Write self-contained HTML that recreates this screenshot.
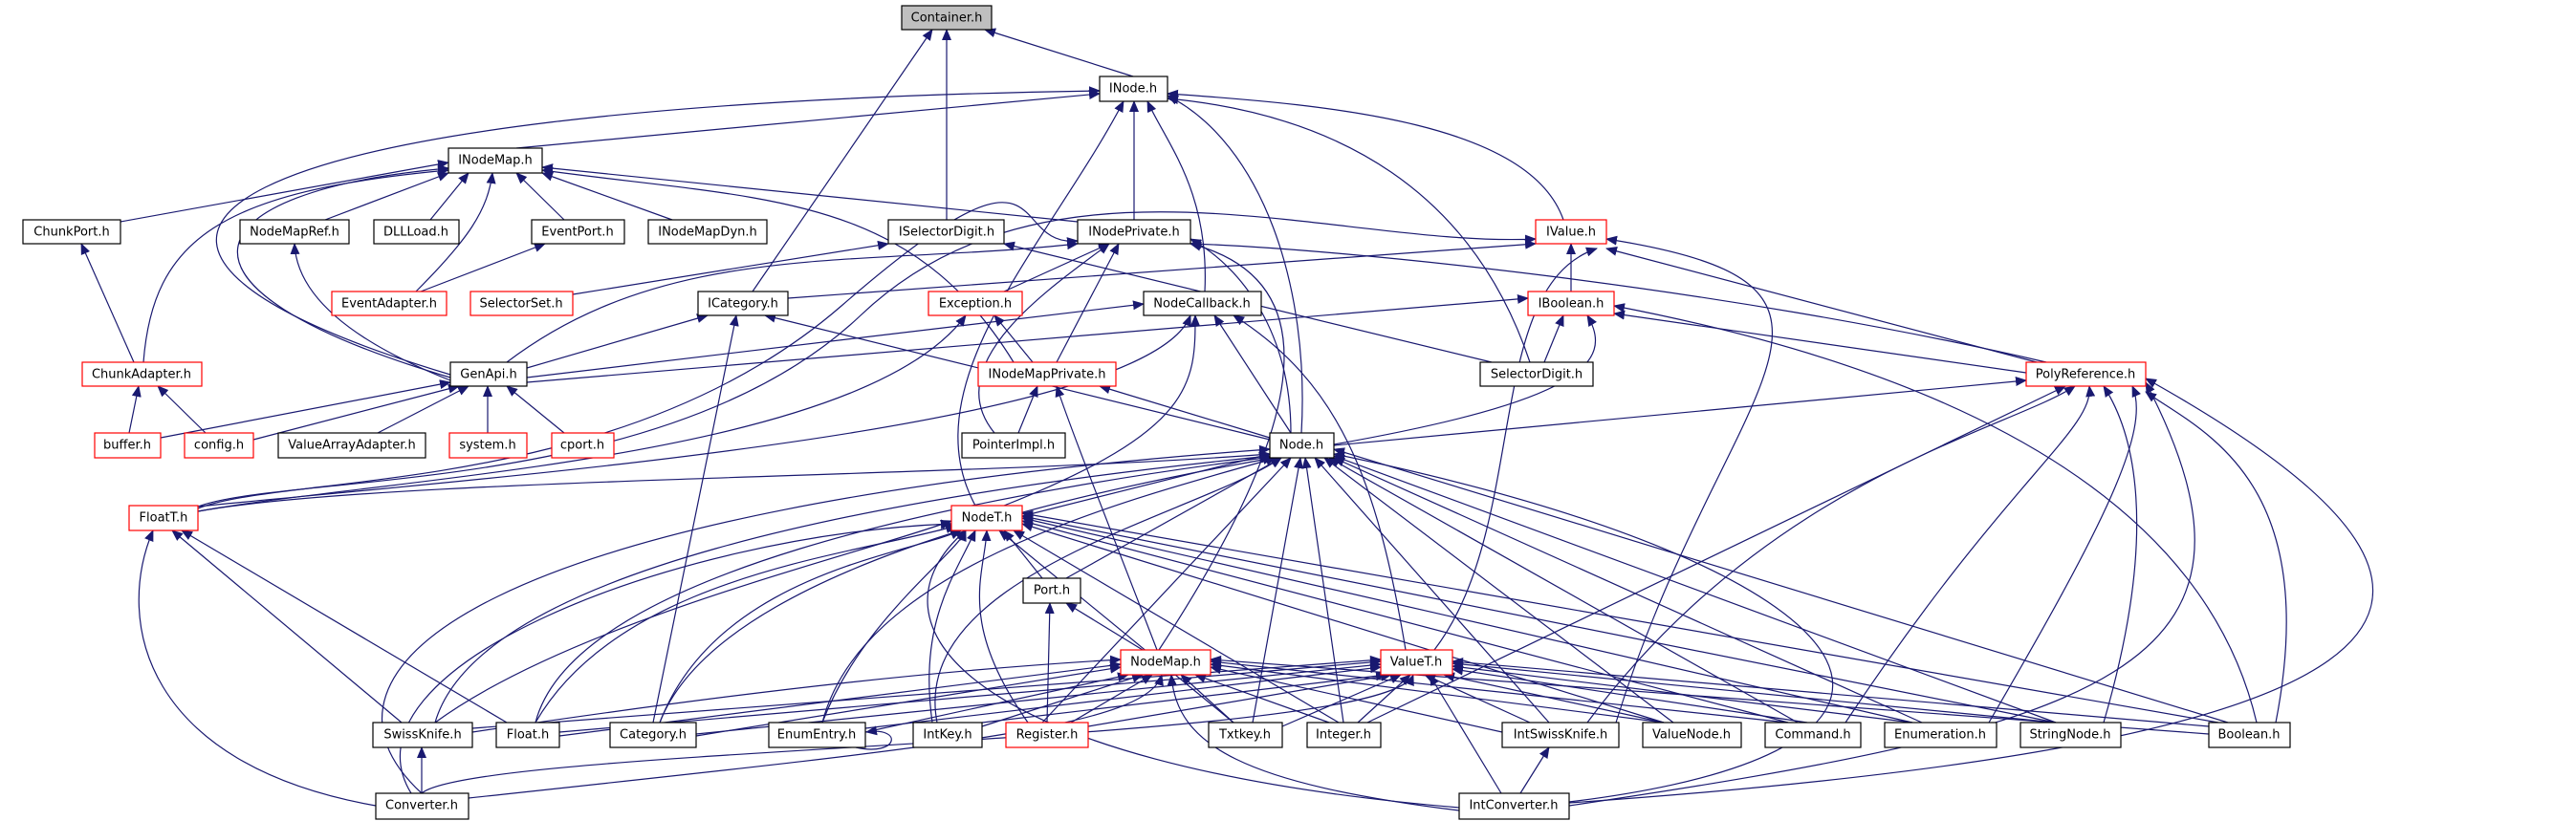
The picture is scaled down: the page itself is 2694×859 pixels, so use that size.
<!DOCTYPE html>
<html><head><meta charset="utf-8"><style>
html,body{margin:0;padding:0;background:#fff;}
svg{display:block}
text{font-family:"DejaVu Sans","Liberation Sans",sans-serif;font-size:13px;text-anchor:middle;dominant-baseline:central;fill:#000}
rect{stroke-width:1.2}
</style></head><body>
<svg width="2694" height="859" viewBox="0 0 2694 859" xmlns="http://www.w3.org/2000/svg">
<defs><marker id="a" markerWidth="12" markerHeight="10" refX="11" refY="5" orient="auto" markerUnits="userSpaceOnUse"><path d="M0,0 L12,5 L0,10 z" fill="#191970"/></marker></defs>
<g fill="none" stroke="#191970" stroke-width="1.2" marker-end="url(#a)">
<path d="M1185 80L1030 31"/><path d="M990 230L990 31"/><path d="M787 305L975 31"/>
<path d="M540 155L1150 98"/><path d="M471 392C0 250 200 110 1150 95"/><path d="M1186 230L1186 106"/>
<path d="M1260 305C1265 200 1220 150 1200 106"/><path d="M1361 453C1370 300 1320 150 1221 100"/>
<path d="M1635 230C1600 130 1400 110 1221 98"/><path d="M1600 379C1540 200 1400 120 1221 103"/>
<path d="M1020 529C950 400 1100 250 1175 106"/>
<path d="M126 232L469 170"/><path d="M340 230L469 181"/><path d="M450 230L490 181"/><path d="M590 230L540 181"/>
<path d="M703 230L567 181"/><path d="M435 305C490 250 510 220 515 181"/><path d="M1127 232L567 175"/>
<path d="M150 379C160 250 230 200 469 178"/><path d="M471 395C150 300 200 200 469 176"/><path d="M1060 379C950 200 800 210 567 178"/>
<path d="M140 379L85 255"/><path d="M471 398C350 350 310 300 308 255"/><path d="M440 305L570 255"/>
<path d="M599 308L929 255"/><path d="M1560 379L1050 255"/>
<path d="M530 379C700 250 900 280 1127 255"/><path d="M207 532C300 495 650 520 880 320S1050 260 1127 252"/><path d="M1050 305L1160 255"/>
<path d="M1105 379L1170 255"/><path d="M1040 453C980 380 1100 300 1160 255"/><path d="M1350 453C1350 350 1300 280 1245 250"/>
<path d="M1212 680C1330 500 1420 300 1245 255"/><path d="M2140 379C1800 300 1400 260 1245 255"/>
<path d="M824 312L1606 255"/><path d="M207 530C300 495 700 520 900 330S1400 260 1606 250"/><path d="M1643 305L1643 255"/>
<path d="M2130 379L1680 260"/><path d="M1500 680C1600 550 1550 300 1670 260"/><path d="M1690 756C1800 400 2000 300 1680 250"/>
<path d="M551 385L740 330"/><path d="M683 756L770 330"/><path d="M1328 460L800 330"/>
<path d="M1080 379L1040 330"/><path d="M207 535C400 500 900 480 1010 330"/>
<path d="M551 395L1196 318"/><path d="M1350 453L1270 330"/><path d="M1050 529C1250 450 1250 400 1250 330"/>
<path d="M207 530C500 500 1200 450 1245 330"/><path d="M1470 680C1440 500 1400 400 1290 330"/>
<path d="M551 400L1598 312"/><path d="M1615 379L1635 330"/><path d="M1395 465C1650 420 1690 380 1660 330"/>
<path d="M2119 390L1688 328"/><path d="M2360 756C2300 500 2000 380 1688 320"/>
<path d="M135 453L145 404"/><path d="M215 453L165 404"/>
<path d="M168 458L471 400"/><path d="M265 460L480 404"/><path d="M395 453L490 404"/><path d="M510 453L510 404"/><path d="M590 453L530 404"/>
<path d="M1065 453L1085 404"/><path d="M1328 458L1150 404"/><path d="M1210 680C1160 550 1120 450 1105 404"/>
<path d="M1395 466L2119 398"/><path d="M1430 756L2160 404"/><path d="M1660 756C1850 500 2100 450 2170 404"/>
<path d="M1930 756C2100 500 2190 450 2185 404"/><path d="M2200 756C2260 550 2230 450 2200 404"/>
<path d="M2080 756C2200 550 2250 450 2230 404"/><path d="M2380 756C2430 500 2300 450 2244 410"/>
<path d="M1641 843C2200 760 2400 700 2244 400"/><path d="M1641 840C2500 780 2700 650 2244 396"/>
<path d="M207 535C400 500 1000 500 1328 475"/><path d="M1069 540L1328 475"/><path d="M1115 605L1340 479"/>
<path d="M455 756C500 600 900 520 1328 477"/><path d="M560 756C600 600 1000 520 1330 478"/>
<path d="M690 756C750 600 1100 520 1332 479"/><path d="M860 756C900 600 1150 530 1335 479"/>
<path d="M980 756C950 600 1250 540 1340 479"/><path d="M1090 756L1350 479"/><path d="M1310 756L1360 479"/>
<path d="M1405 756L1365 479"/><path d="M1620 756L1375 479"/><path d="M1750 756L1385 479"/><path d="M1880 756L1390 479"/>
<path d="M2010 756L1395 479"/><path d="M2150 756L1395 477"/><path d="M2330 756L1395 470"/>
<path d="M441 830C300 700 500 530 1328 470"/><path d="M1583 845C2100 800 2000 600 1395 475"/>
<path d="M420 756L180 555"/><path d="M530 756L190 555"/><path d="M393 843C150 800 120 650 160 555"/>
<path d="M1090 605L1050 555"/><path d="M455 756C600 650 900 580 995 545"/><path d="M560 756C650 600 900 580 1000 550"/>
<path d="M690 756C750 600 950 580 1005 555"/><path d="M860 756C900 650 1000 580 1010 555"/>
<path d="M975 756C960 650 1000 600 1020 555"/><path d="M1075 756C1000 650 1030 600 1032 555"/>
<path d="M1290 756L1045 555"/><path d="M1400 756L1060 555"/><path d="M1740 756L1069 548"/>
<path d="M1870 756L1069 545"/><path d="M2000 756L1069 542"/><path d="M2150 756L1069 540"/><path d="M2320 756L1069 537"/>
<path d="M430 830C350 700 700 560 995 548"/><path d="M1526 845C1000 800 900 650 1010 555"/>
<path d="M1195 680L1115 631"/><path d="M1095 756L1098 631"/>
<path d="M494 766C800 720 1000 700 1172 690"/><path d="M585 770L1172 695"/><path d="M728 770L1172 698"/>
<path d="M905 766L1180 706"/><path d="M1027 760L1195 706"/><path d="M1120 756L1205 706"/><path d="M1290 756L1235 706"/>
<path d="M1390 756L1250 706"/><path d="M1571 766L1266 698"/><path d="M1740 756L1266 695"/><path d="M1870 756L1266 692"/>
<path d="M2310 768L1266 690"/><path d="M490 835C1000 780 1200 760 1215 706"/><path d="M1526 848C1300 820 1230 780 1225 706"/>
<path d="M494 762L1444 690"/><path d="M585 766L1444 692"/><path d="M728 768L1444 695"/><path d="M905 762L1444 698"/>
<path d="M1027 756L1450 706"/><path d="M1138 760L1455 706"/><path d="M1341 760L1465 706"/><path d="M1420 756L1475 706"/>
<path d="M1600 756L1490 706"/><path d="M1740 756L1510 706"/><path d="M1890 756L1519 700"/><path d="M2000 756L1519 697"/>
<path d="M2150 756L1519 694"/><path d="M2310 760L1519 692"/><path d="M441 830C500 780 1450 780 1478 706"/><path d="M1570 830L1495 706"/>
<path d="M441 830L441 782"/><path d="M1590 830L1620 782"/>
<path d="M895 782C940 792 945 760 906 766"/>
</g>
<g fill="#fff" stroke="#000">
<rect x="943" y="6" width="94" height="25" fill="#bfbfbf"/>
<rect x="1150" y="80" width="71" height="26"/>
<rect x="469" y="155" width="98" height="26"/>
<rect x="24" y="230" width="102" height="25"/><rect x="251" y="230" width="114" height="25"/><rect x="391" y="230" width="89" height="25"/>
<rect x="556" y="230" width="97" height="25"/><rect x="678" y="230" width="124" height="25"/><rect x="929" y="230" width="121" height="25"/>
<rect x="1127" y="230" width="118" height="25"/><rect x="1606" y="230" width="74" height="25" stroke="#f00"/>
<rect x="347" y="305" width="120" height="25" stroke="#f00"/><rect x="492" y="305" width="107" height="25" stroke="#f00"/>
<rect x="730" y="305" width="94" height="25"/><rect x="971" y="305" width="98" height="25" stroke="#f00"/>
<rect x="1196" y="305" width="123" height="25"/><rect x="1598" y="305" width="90" height="25" stroke="#f00"/>
<rect x="86" y="379" width="125" height="25" stroke="#f00"/><rect x="471" y="379" width="80" height="25"/>
<rect x="1023" y="379" width="144" height="25" stroke="#f00"/><rect x="1548" y="379" width="118" height="25"/>
<rect x="2119" y="379" width="125" height="25" stroke="#f00"/>
<rect x="99" y="453" width="69" height="26" stroke="#f00"/><rect x="193" y="453" width="72" height="26" stroke="#f00"/>
<rect x="291" y="453" width="154" height="26"/><rect x="470" y="453" width="81" height="26" stroke="#f00"/>
<rect x="577" y="453" width="65" height="26" stroke="#f00"/><rect x="1006" y="453" width="108" height="26"/>
<rect x="1328" y="453" width="67" height="26"/>
<rect x="135" y="529" width="72" height="26" stroke="#f00"/><rect x="995" y="529" width="74" height="26" stroke="#f00"/>
<rect x="1070" y="605" width="60" height="26"/>
<rect x="1172" y="680" width="94" height="26" stroke="#f00"/><rect x="1444" y="680" width="75" height="26" stroke="#f00"/>
<rect x="390" y="756" width="104" height="26"/><rect x="519" y="756" width="66" height="26"/><rect x="638" y="756" width="90" height="26"/>
<rect x="804" y="756" width="101" height="26"/><rect x="955" y="756" width="72" height="26"/><rect x="1052" y="756" width="86" height="26" stroke="#f00"/>
<rect x="1264" y="756" width="77" height="26"/><rect x="1367" y="756" width="77" height="26"/><rect x="1571" y="756" width="122" height="26"/>
<rect x="1718" y="756" width="103" height="26"/><rect x="1846" y="756" width="100" height="26"/><rect x="1971" y="756" width="117" height="26"/>
<rect x="2113" y="756" width="105" height="26"/><rect x="2310" y="756" width="85" height="26"/>
<rect x="393" y="830" width="97" height="27"/><rect x="1526" y="830" width="115" height="27"/>
</g>
<g>
<text x="990" y="19">Container.h</text><text x="1185" y="93">INode.h</text><text x="518" y="168">INodeMap.h</text>
<text x="75" y="243">ChunkPort.h</text><text x="308" y="243">NodeMapRef.h</text><text x="435" y="243">DLLLoad.h</text>
<text x="604" y="243">EventPort.h</text><text x="740" y="243">INodeMapDyn.h</text><text x="990" y="243">ISelectorDigit.h</text>
<text x="1186" y="243">INodePrivate.h</text><text x="1643" y="243">IValue.h</text>
<text x="407" y="318">EventAdapter.h</text><text x="545" y="318">SelectorSet.h</text><text x="777" y="318">ICategory.h</text>
<text x="1020" y="318">Exception.h</text><text x="1257" y="318">NodeCallback.h</text><text x="1643" y="318">IBoolean.h</text>
<text x="148" y="392">ChunkAdapter.h</text><text x="511" y="392">GenApi.h</text><text x="1095" y="392">INodeMapPrivate.h</text>
<text x="1607" y="392">SelectorDigit.h</text><text x="2181" y="392">PolyReference.h</text>
<text x="133" y="466">buffer.h</text><text x="229" y="466">config.h</text><text x="368" y="466">ValueArrayAdapter.h</text>
<text x="510" y="466">system.h</text><text x="609" y="466">cport.h</text><text x="1060" y="466">PointerImpl.h</text><text x="1361" y="466">Node.h</text>
<text x="171" y="542">FloatT.h</text><text x="1032" y="542">NodeT.h</text><text x="1100" y="618">Port.h</text>
<text x="1219" y="693">NodeMap.h</text><text x="1481" y="693">ValueT.h</text>
<text x="442" y="769">SwissKnife.h</text><text x="552" y="769">Float.h</text><text x="683" y="769">Category.h</text>
<text x="854" y="769">EnumEntry.h</text><text x="991" y="769">IntKey.h</text><text x="1095" y="769">Register.h</text>
<text x="1302" y="769">Txtkey.h</text><text x="1405" y="769">Integer.h</text><text x="1632" y="769">IntSwissKnife.h</text>
<text x="1769" y="769">ValueNode.h</text><text x="1896" y="769">Command.h</text><text x="2029" y="769">Enumeration.h</text>
<text x="2165" y="769">StringNode.h</text><text x="2352" y="769">Boolean.h</text>
<text x="441" y="843">Converter.h</text><text x="1583" y="843">IntConverter.h</text>
</g>
</svg>
</body></html>
